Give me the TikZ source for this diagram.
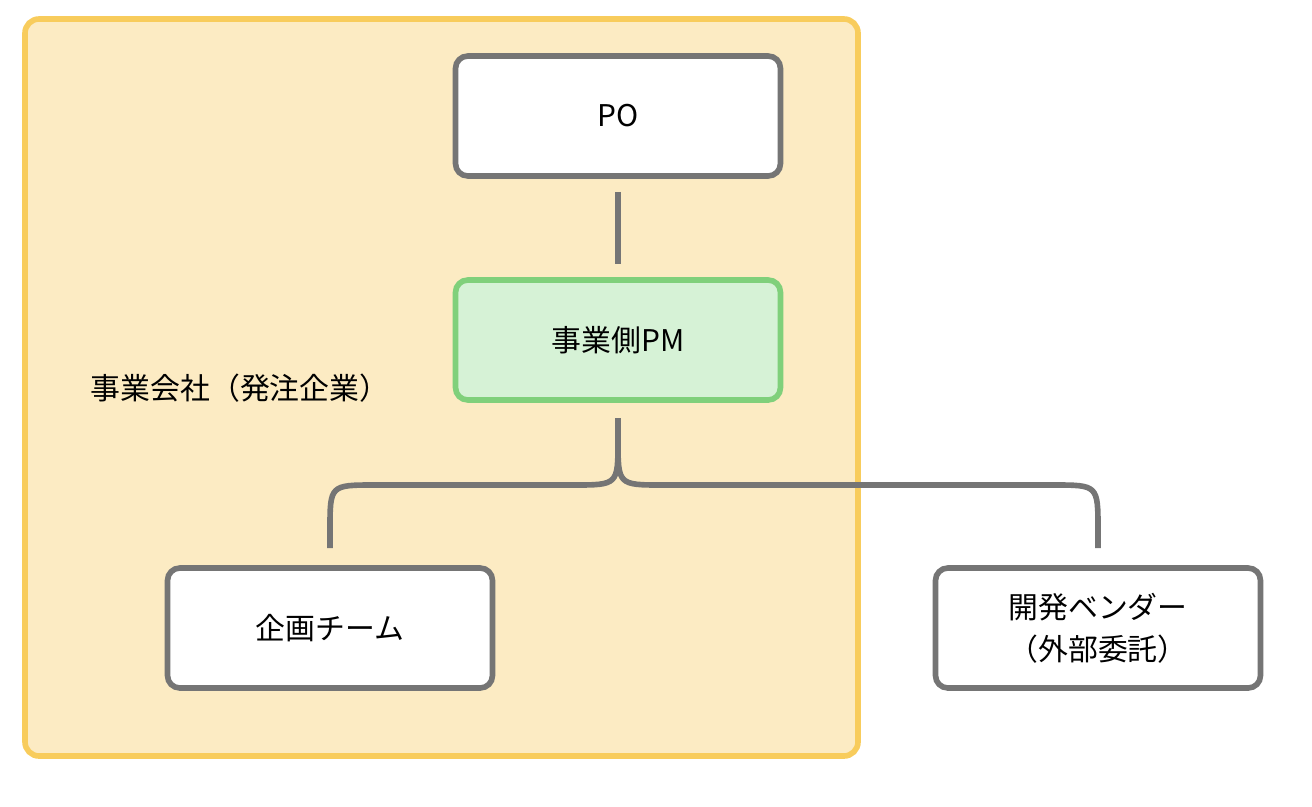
\documentclass[tikz,border=0pt]{standalone}
\usepackage{fontspec}
\setmainfont{Noto Sans CJK JP}
\usetikzlibrary{positioning}
\definecolor{boxgray}{HTML}{757575}
\definecolor{areafill}{HTML}{FCEBC3}
\definecolor{areadraw}{HTML}{F8CC5C}
\definecolor{pmfill}{HTML}{D6F2D6}
\definecolor{pmdraw}{HTML}{80D07B}
\begin{document}
\begin{tikzpicture}[x=0.02cm,y=-0.02cm,
    box/.style={draw=boxgray, fill=white, line width=3.2pt, rounded corners=7pt,
      minimum width=6.5cm, minimum height=2.4cm, align=center,
      font=\fontsize{17}{24}\selectfont},
    link/.style={draw=boxgray, line width=3.2pt}]
        \useasboundingbox (0,0) rectangle (1312,806);
        
        \draw[fill=areafill, draw=areadraw, line width=3.2pt, rounded corners=8pt] (25,19) rectangle (858,756);
        \node[font=\fontsize{17}{20}\selectfont] (area) at (240,388) {事業会社（発注企業）};
        
        \node[box] (po) at (618,116) {PO};
        \node[box, draw=pmdraw, fill=pmfill] (pm) at (618,340) {事業側PM};
        \node[box] (plan) at (330,628) {企画チーム};
        \node[box] (vendor) at (1098,628) {開発ベンダー\\（外部委託）};
        
        \coordinate (top) at (618,418);
        \coordinate (lend) at (330,548);
        \coordinate (rend) at (1098,548);
        
        \draw[link] ([yshift=-0.26cm]po.south) -- ([yshift=0.26cm]pm.north);
        \draw[link] (top) -- (618,440) .. controls (618,485) .. (573,485) -- (375,485)
            .. controls (330,485) .. (330,530) -- (lend);
        \draw[link] (618,440) .. controls (618,485) .. (663,485) -- (1053,485)
            .. controls (1098,485) .. (1098,530) -- (rend);
    \end{tikzpicture}
\end{document}
